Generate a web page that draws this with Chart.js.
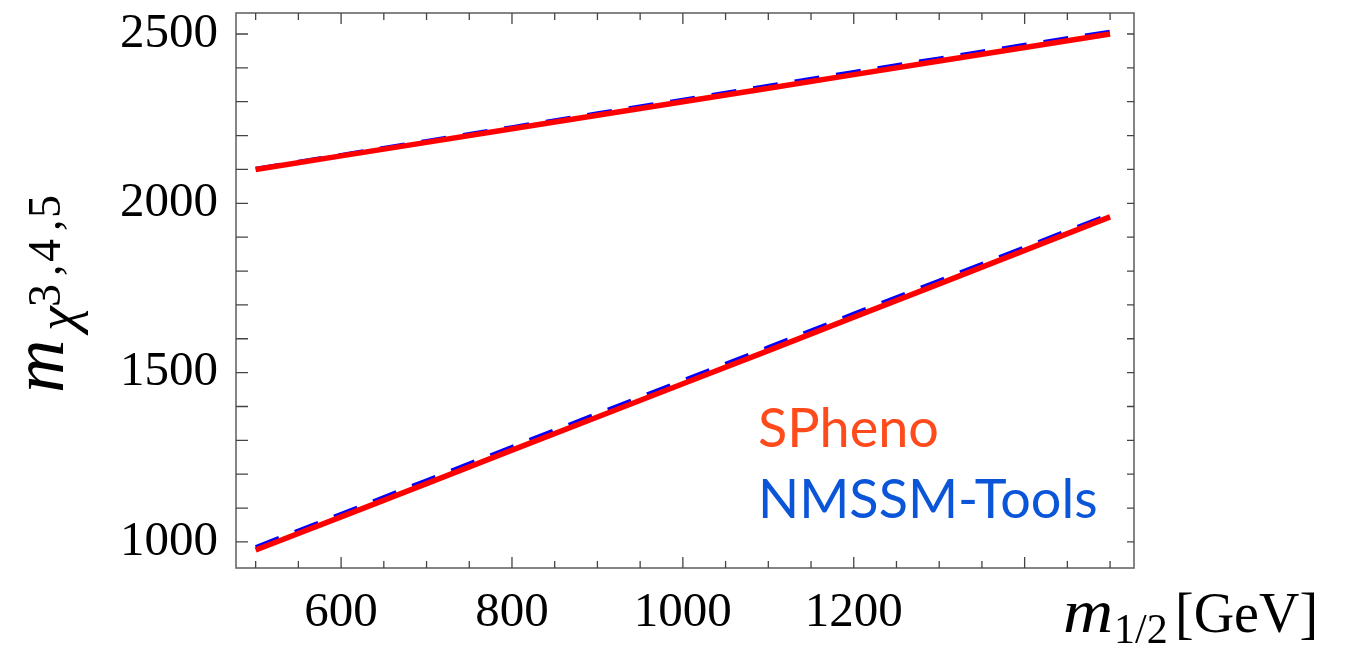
<!DOCTYPE html>
<html>
<head>
<meta charset="utf-8">
<script src="https://cdn.jsdelivr.net/npm/chart.js@4.4.0/dist/chart.umd.min.js"></script>
<style>
  html, body { margin: 0; padding: 0; background: #fff; }
  #wrap { width: 1348px; height: 646px; }
</style>
</head>
<body>
<div id="wrap"><canvas id="massChart" width="1348" height="646"></canvas></div>
<script>
// m_1/2 scan points (GeV)
const m12 = [500, 600, 700, 800, 900, 1000, 1100, 1200, 1300, 1400, 1500];

// heavy neutralino masses from SPheno
const sphenoUpper = [2100, 2140, 2180, 2220, 2260, 2300, 2340, 2380, 2420, 2460, 2500];
const sphenoLower = [976, 1074, 1172, 1271, 1369, 1467, 1565, 1664, 1762, 1861, 1960];

// same masses from NMSSM-Tools
const nmssmUpper = [2102, 2143, 2184, 2225, 2266, 2306, 2347, 2388, 2428, 2468, 2507];
const nmssmLower = [985, 1083, 1182, 1281, 1379, 1477, 1575, 1674, 1772, 1870, 1968];

// labelled ticks
const xTickLabels = [600, 800, 1000, 1200];
const yTickLabels = [1000, 1500, 2000, 2500];

// tick marks: every 50 GeV on x, every 100 on y
const xTicks = [];
for (let v = 500; v <= 1500; v += 50) xTicks.push(v);
const yTicks = [];
for (let v = 1000; v <= 2500; v += 100) yTicks.push(v);

const RED = '#ff0000';
const BLUE = '#0000ff';

function toPoints(ys) {
    return m12.map((x, i) => ({ x: x, y: ys[i] }));
}

// Frame, inward tick marks, axis titles and code names
const framePlugin = {
    id: 'frame',
    afterDatasetsDraw(chart) {
        const ctx = chart.ctx;
        const area = chart.chartArea;
        const xs = chart.scales.x;
        const ys = chart.scales.y;

        ctx.save();
        ctx.strokeStyle = '#666';
        ctx.lineWidth = 1.6;
        ctx.strokeRect(area.left, area.top, area.right - area.left, area.bottom - area.top);

        ctx.lineWidth = 1.3;
        ctx.strokeStyle = '#444';
        ctx.beginPath();
        xs.ticks.forEach(t => {
            const px = xs.getPixelForValue(t.value);
            const len = t.value % 200 === 0 ? 11 : 7;
            ctx.moveTo(px, area.bottom);
            ctx.lineTo(px, area.bottom - len);
            ctx.moveTo(px, area.top);
            ctx.lineTo(px, area.top + len);
        });
        ys.ticks.forEach(t => {
            const py = ys.getPixelForValue(t.value);
            ctx.moveTo(area.left, py);
            ctx.lineTo(area.left + 12, py);
            ctx.moveTo(area.right, py);
            ctx.lineTo(area.right - 7, py);
        });
        ctx.stroke();

        // y title: m_{chi^{3,4,5}}
        ctx.fillStyle = '#000';
        ctx.translate(63, 393);
        ctx.rotate(-Math.PI / 2);
        ctx.textBaseline = 'alphabetic';
        ctx.textAlign = 'left';
        ctx.font = 'italic 74px "Liberation Serif"';
        ctx.fillText('m', 0, 0);
        ctx.font = 'italic 56px "Liberation Serif"';
        ctx.fillText('\u03C7', 62, 13);
        ctx.font = '46px "Liberation Serif"';
        const sup = [['3', 86], [',', 117], ['4', 131], [',', 162], ['5', 175]];
        sup.forEach(([ch, u]) => ctx.fillText(ch, u, -3));
        ctx.setTransform(1, 0, 0, 1, 0, 0);

        // x title: m_{1/2}[GeV]
        ctx.save();
        ctx.translate(1063, 632);
        ctx.scale(1.12, 1);
        ctx.font = 'italic 62px "Liberation Serif"';
        ctx.fillText('m', 0, 0);
        ctx.restore();
        ctx.font = '42px "Liberation Serif"';
        ctx.fillText('1/2', 1114, 643);
        ctx.font = '56px "Liberation Serif"';
        ctx.fillText('[GeV]', 1175, 632);

        // code names
        ctx.font = '54px Lato';
        ctx.fillStyle = '#ff4a1c';
        ctx.fillText('SPheno', 758, 447);
        ctx.fillStyle = '#0a55d8';
        ctx.fillText('NMSSM-Tools', 758, 518);
        ctx.restore();
    }
};

const tickFont = { family: 'Liberation Serif', size: 49 };

new Chart(document.getElementById('massChart'), {
    type: 'line',
    data: {
        datasets: [
            { label: 'SPheno', data: toPoints(sphenoUpper), borderColor: RED, borderWidth: 5.5 },
            { label: 'SPheno', data: toPoints(sphenoLower), borderColor: RED, borderWidth: 5.5 },
            { label: 'NMSSM-Tools', data: toPoints(nmssmUpper), borderColor: BLUE, borderWidth: 4, borderDash: [25, 17] },
            { label: 'NMSSM-Tools', data: toPoints(nmssmLower), borderColor: BLUE, borderWidth: 4, borderDash: [25, 17] }
        ]
    },
    options: {
        responsive: false,
        animation: false,
        devicePixelRatio: 1,
        layout: { padding: { left: 0, top: 13, right: 214, bottom: 0 } },
        elements: { point: { radius: 0 }, line: { tension: 0 } },
        plugins: {
            legend: { display: false },
            tooltip: { enabled: false }
        },
        scales: {
            x: {
                type: 'linear',
                min: 477,
                max: 1528,
                grid: { display: false, drawTicks: false },
                border: { display: false },
                afterBuildTicks: scale => { scale.ticks = xTicks.map(v => ({ value: v })); },
                afterFit: scale => {
                    scale.height = 78;
                    scale.paddingLeft = 0;
                    scale.paddingRight = 0;
                },
                ticks: {
                    autoSkip: false,
                    maxRotation: 0,
                    padding: 16,
                    color: '#000',
                    font: tickFont,
                    callback: v => xTickLabels.includes(v) ? String(v) : ''
                }
            },
            y: {
                min: 923,
                max: 2562,
                grid: { display: false, drawTicks: false },
                border: { display: false },
                afterBuildTicks: scale => { scale.ticks = yTicks.map(v => ({ value: v })); },
                afterFit: scale => {
                    scale.width = 236;
                    scale.paddingTop = 0;
                    scale.paddingBottom = 0;
                },
                ticks: {
                    autoSkip: false,
                    padding: 18,
                    color: '#000',
                    font: tickFont,
                    callback: v => yTickLabels.includes(v) ? String(v) : ''
                }
            }
        }
    },
    plugins: [framePlugin]
});
</script>
</body>
</html>
